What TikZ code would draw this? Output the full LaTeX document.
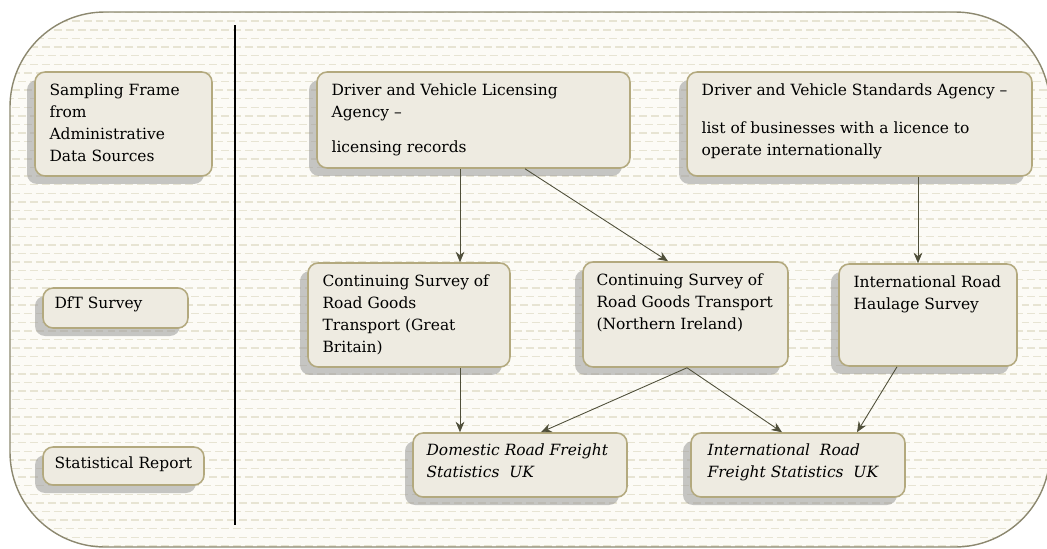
\documentclass[tikz,border=0pt]{standalone}
\usepackage{fontspec}
\setmainfont{DejaVu Serif}
\usetikzlibrary{arrows.meta}
\usetikzlibrary{shadows}
\usetikzlibrary{calc}

\definecolor{paper}{HTML}{FCFBF6}
\definecolor{dashc}{HTML}{E7E4D3}
\definecolor{frame}{HTML}{8C886F}
\definecolor{boxfill}{HTML}{EEEBE1}
\definecolor{boxline}{HTML}{B3A97E}
\definecolor{arrowc}{HTML}{4F4F3A}

\begin{document}
\begin{tikzpicture}[x=0.02cm, y=-0.02cm,
  panel/.style={draw=boxline, line width=0.9pt, fill=boxfill, rounded corners=0.2cm, inner sep=0,
    drop shadow={shadow xshift=-0.16cm, shadow yshift=-0.16cm, fill=black!40, opacity=0.55}},
  txt/.style={anchor=north west, inner sep=0, align=left, font=\fontsize{8.8}{12.5}\selectfont},
  flow/.style={draw=arrowc, line width=0.5pt, -{Stealth[length=6pt,width=5pt]}}]

\useasboundingbox (0,0) rectangle (1047,548);

% background
\begin{scope}
\path[clip, rounded corners=1.9cm] (10,12) rectangle (1050,547);
\fill[paper] (0,0) rectangle (1047,548);
\foreach \r in {0,...,64} {
  \pgfmathsetmacro\off{mod(\r,2)*6}
  \draw[dashc, line width=0.8pt, dash pattern=on 4.5pt off 2.3pt] (\off,{4+\r*8.6}) -- (1060,{4+\r*8.6});
}
\end{scope}
\draw[frame, line width=0.8pt, rounded corners=1.9cm] (10,12) rectangle (1050,547);

\coordinate (top) at (235,25);
\coordinate (bot) at (235,525);
\draw[black, line width=0.6pt] (top) -- (bot);

% left column
\node[panel, minimum width=3.54cm, minimum height=2.08cm] (sf) at (123.5,124) {};
\node[panel, minimum width=2.90cm, minimum height=0.80cm] (dft) at (115.5,308) {};
\node[panel, minimum width=3.22cm, minimum height=0.76cm] (rep) at (123.5,466) {};

% sources
\node[panel, minimum width=6.26cm, minimum height=1.92cm] (dvla) at (473.5,120) {};
\node[panel, minimum width=6.90cm, minimum height=2.08cm] (dvsa) at (859.5,124) {};

% surveys
\node[panel, minimum width=4.04cm, minimum height=2.08cm] (gb) at (409,315) {};
\node[panel, minimum width=4.10cm, minimum height=2.10cm] (ni) at (685.5,314.5) {};
\node[panel, minimum width=3.56cm, minimum height=2.04cm] (ihs) at (928,315) {};

% reports
\node[panel, minimum width=4.28cm, minimum height=1.28cm] (dom) at (520,465) {};
\node[panel, minimum width=4.28cm, minimum height=1.28cm] (intl) at (798,465) {};

\node[txt] (sft) at ([shift={(0.3cm,-0.25cm)}]sf.north west) {Sampling Frame\\from\\Administrative\\Data Sources};
\node[txt] (dftt) at ([shift={(0.24cm,-0.19cm)}]dft.north west) {DfT Survey};
\node[txt] (rept) at ([shift={(0.24cm,-0.2cm)}]rep.north west) {Statistical Report};
\node[txt] (dvlat) at ([shift={(0.3cm,-0.25cm)}]dvla.north west) {Driver and Vehicle Licensing\\Agency --\\[0.26cm]licensing records};
\node[txt] (dvsat) at ([shift={(0.3cm,-0.24cm)}]dvsa.north west) {Driver and Vehicle Standards Agency --\\[0.32cm]list of businesses with a licence to\\operate internationally};
\node[txt] (gbt) at ([shift={(0.3cm,-0.24cm)}]gb.north west) {Continuing Survey of\\Road Goods\\Transport (Great\\Britain)};
\node[txt] (nit) at ([shift={(0.28cm,-0.24cm)}]ni.north west) {Continuing Survey of\\Road Goods Transport\\(Northern Ireland)};
\node[txt] (ihst) at ([shift={(0.3cm,-0.24cm)}]ihs.north west) {International Road\\Haulage Survey};
\node[txt] (domt) at ([shift={(0.28cm,-0.22cm)}]dom.north west) {\itshape Domestic Road Freight\\\itshape Statistics~ UK};
\node[txt] (intlt) at ([shift={(0.34cm,-0.22cm)}]intl.north west) {\itshape International~ Road\\\itshape Freight Statistics~ UK};

\draw[flow] ([xshift=-0.27cm]dvla.south) -- ([xshift=-0.27cm]dvla.south |- gb.north);
\draw[flow] ([xshift=1.03cm]dvla.south) -- ([xshift=-0.35cm]ni.north);
\draw[flow] ([xshift=1.17cm]dvsa.south) -- ([xshift=1.17cm]dvsa.south |- ihs.north);
\draw[flow] ([xshift=1.02cm]gb.south) -- ([xshift=1.02cm]gb.south |- dom.north);
\draw[flow] ([xshift=0.03cm]ni.south) -- ([xshift=0.42cm]dom.north);
\draw[flow] ([xshift=0.03cm]ni.south) -- ([xshift=-0.32cm]intl.north);
\draw[flow] ([xshift=-0.62cm]ihs.south) -- ([xshift=1.18cm]intl.north);
\end{tikzpicture}
\end{document}
